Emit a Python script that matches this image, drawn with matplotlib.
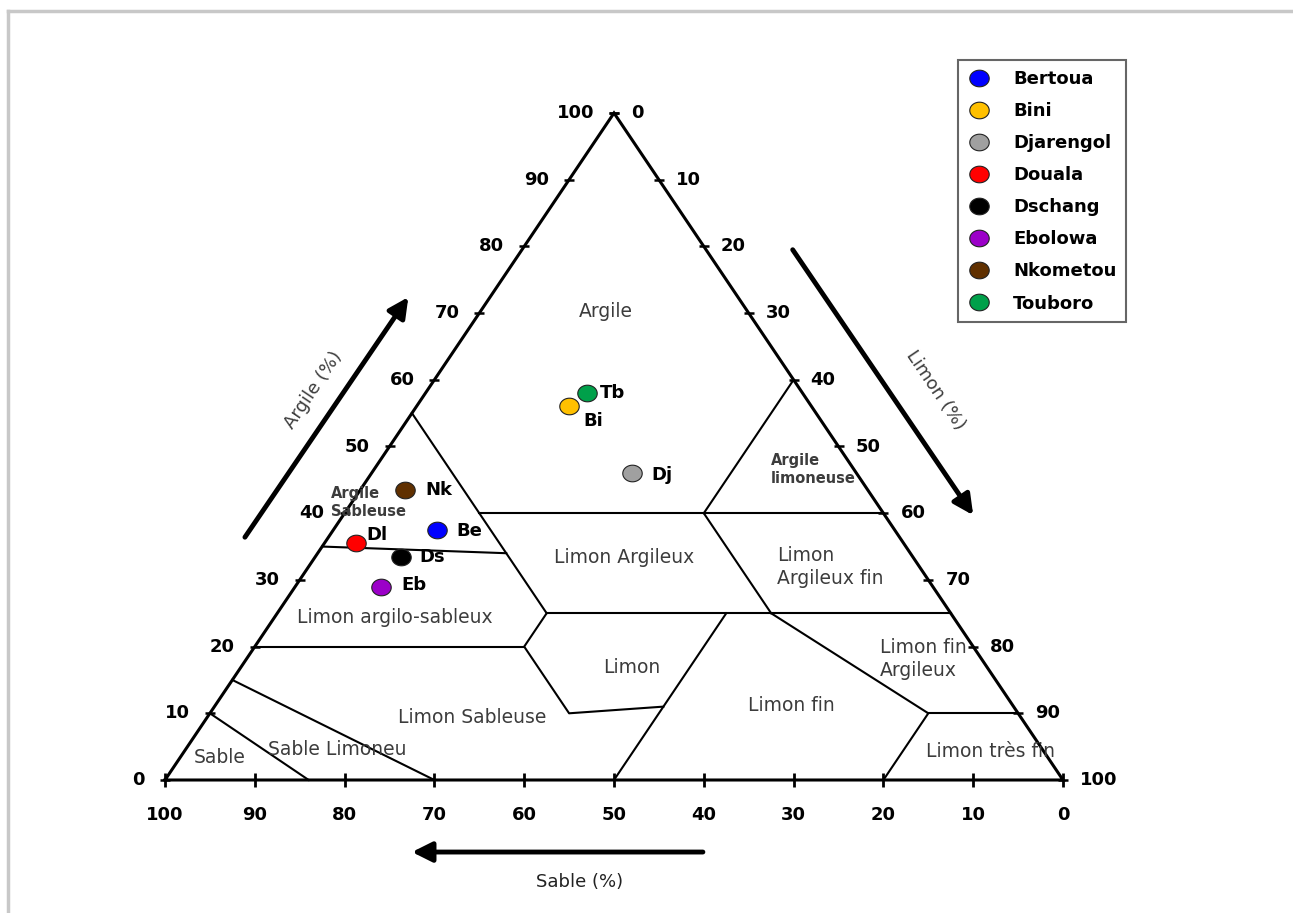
import matplotlib

matplotlib.use("Agg")
import matplotlib.pyplot as plt
import numpy as np
from matplotlib.lines import Line2D
from matplotlib.path import Path

# %%
# soil samples, texture in % (sand / clay / silt)
sites = ["Bertoua", "Bini", "Djarengol", "Douala", "Dschang", "Ebolowa", "Nkometou", "Touboro"]
codes = ["Be", "Bi", "Dj", "Dl", "Ds", "Eb", "Nk", "Tb"]
sable = [51, 27, 25, 61, 57, 61.5, 51.5, 24]
argile = [37.5, 56, 46, 35.5, 33.5, 29, 43.5, 58]
limon = [11.5, 17, 29, 3.5, 9.5, 9.5, 5, 18]
colors = ["#0000ff", "#ffc000", "#a0a0a0", "#ff0000", "#000000", "#9b00c8", "#603000", "#00a04a"]

# label offsets next to each sample (pixels)
code_offsets = [(20, -1), (14, -15), (19, -2), (11, 8), (19, 0), (21, 2), (20, 0), (13, 0)]

ticks = list(range(0, 101, 10))

# texture class boundaries as (sand, clay) vertices
class_lines = [
    [(45, 55), (45, 25)],
    [(45, 40), (0, 40)],
    [(20, 40), (0, 60)],
    [(20, 40), (20, 25)],
    [(45, 25), (0, 25)],
    [(45, 25), (50, 20), (50, 10), (39, 11)],
    [(50, 0), (25, 25)],
    [(80, 20), (50, 20)],
    [(65, 35), (45, 34)],
    [(85, 15), (70, 0)],
    [(90, 10), (84, 0)],
    [(20, 25), (10, 10), (20, 0)],
    [(10, 10), (0, 10)],
]

# class names and where they sit (x, y in triangle coordinates)
class_names = [
    ("Argile", 49.1, 70.2, "center", "normal", 13.5),
    ("Argile\nSableuse", 18.5, 41.6, "left", "bold", 10.5),
    ("Argile\nlimoneuse", 67.5, 46.5, "left", "bold", 10.5),
    ("Limon Argileux", 51.1, 33.4, "center", "normal", 13.5),
    ("Limon\nArgileux fin", 68.2, 31.9, "left", "normal", 13.5),
    ("Limon argilo-sableux", 25.6, 24.4, "center", "normal", 13.5),
    ("Limon", 52.0, 16.8, "center", "normal", 13.5),
    ("Limon Sableuse", 34.2, 9.3, "center", "normal", 13.5),
    ("Limon fin", 69.8, 11.2, "center", "normal", 13.5),
    ("Limon fin\nArgileux", 79.6, 18.1, "left", "normal", 13.5),
    ("Limon très fin", 91.9, 4.2, "center", "normal", 13.5),
    ("Sable", 6.1, 3.3, "center", "normal", 13.5),
    ("Sable Limoneu", 19.2, 4.5, "center", "normal", 13.5),
]


def to_xy(sand, clay):
    silt = 100 - sand - clay
    return silt + clay / 2, clay


# slightly wide oval marker
t = np.linspace(0, 2 * np.pi, 64)
oval = Path(np.column_stack([1.17 * np.cos(t), np.sin(t)]), closed=True)

# %%
W, H = 1293, 913
fig = plt.figure(figsize=(W / 100, H / 100), dpi=100)
ax = fig.add_axes([165 / W, (H - 780) / H, 898 / W, 667 / H])
ax.set_xlim(0, 100)
ax.set_ylim(0, 100)
ax.axis("off")

# outer triangle
ax.plot([0, 100, 50, 0], [0, 0, 100, 0], color="black", lw=2.2, clip_on=False, solid_joinstyle="miter")

for line in class_lines:
    xs, ys = zip(*[to_xy(s, c) for s, c in line])
    ax.plot(xs, ys, color="black", lw=1.5, clip_on=False)

for name, x, y, ha, weight, size in class_names:
    ax.text(x, y, name, ha=ha, va="center", fontsize=size, fontweight=weight,
            color="#3c3c3c", linespacing=1.25)

# ticks and tick labels on the three sides
left = [to_xy(100 - v, v) for v in ticks]
right = [(50 + v / 2, 100 - v) for v in ticks]
bottom = [to_xy(v, 0) for v in ticks]
ax.plot(*zip(*left), ls="none", marker="_", ms=7, mew=1.8, color="black", clip_on=False)
ax.plot(*zip(*right), ls="none", marker="_", ms=7, mew=1.8, color="black", clip_on=False)
ax.plot(*zip(*bottom), ls="none", marker="|", ms=10, mew=2, color="black", clip_on=False)
for v, (xl, yl), (xr, yr), (xb, yb) in zip(ticks, left, right, bottom):
    ax.annotate(str(v), (xl, yl), xytext=(-20, 0), textcoords="offset pixels",
                ha="right", va="center", fontsize=13, fontweight="bold")
    ax.annotate(str(v), (xr, yr), xytext=(17, 0), textcoords="offset pixels",
                ha="left", va="center", fontsize=13, fontweight="bold")
    ax.annotate(str(v), (xb, yb), xytext=(0, -35), textcoords="offset pixels",
                ha="center", va="center", fontsize=13, fontweight="bold")

# direction arrows and axis titles
arrow = dict(arrowstyle="-|>,head_length=0.6,head_width=0.3", lw=3.5, color="black",
             mutation_scale=20, shrinkA=0, shrinkB=0)
ax.annotate("", xy=(27.1, 72.4), xytext=(8.9, 36.4), arrowprops=arrow, annotation_clip=False)
ax.annotate("", xy=(90.0, 39.7), xytext=(69.9, 79.5), arrowprops=arrow, annotation_clip=False)
ax.annotate("", xy=(27.5, -10.8), xytext=(59.9, -10.8), arrowprops=arrow, annotation_clip=False)
ax.text(16.5, 58.5, "Argile (%)", rotation=56, ha="center", va="center", fontsize=13, color="#3c3c3c")
ax.text(85.8, 58.5, "Limon (%)", rotation=-56, ha="center", va="center", fontsize=13, color="#3c3c3c")
ax.text(46.2, -15.3, "Sable (%)", ha="center", va="center", fontsize=13, color="#222222")

# samples
for i, code in enumerate(codes):
    x, y = limon[i] + argile[i] / 2, argile[i]
    ax.plot(x, y, ls="none", marker=oval, ms=14, mfc=colors[i], mec="#222222", mew=0.8,
            zorder=5, clip_on=False)
    ax.annotate(code, (x, y), xytext=code_offsets[i], textcoords="offset pixels",
                ha="left", va="center", fontsize=13, fontweight="bold", zorder=6)

handles = [Line2D([], [], ls="none", marker=oval, ms=14, mfc=c, mec="#222222", mew=0.8)
           for c in colors]
leg = fig.legend(handles, sites, loc="upper left", bbox_to_anchor=(958 / W, 1 - 60 / H),
                 bbox_transform=fig.transFigure, frameon=True, fancybox=False, edgecolor="#404040",
                 prop=dict(weight="bold", size=13), handlelength=1.2, handletextpad=1.3,
                 labelspacing=0.78, borderpad=0.55, borderaxespad=0)
leg.get_frame().set_linewidth(1.5)

# light frame along the top and left edges
fig.add_artist(Line2D([8 / W, 1], [1 - 11 / H] * 2, transform=fig.transFigure, color="#c8c8c8", lw=2.5))
fig.add_artist(Line2D([8 / W] * 2, [0, 1 - 11 / H], transform=fig.transFigure, color="#c8c8c8", lw=2.5))

fig.savefig("out.png", dpi=100, facecolor="white")
